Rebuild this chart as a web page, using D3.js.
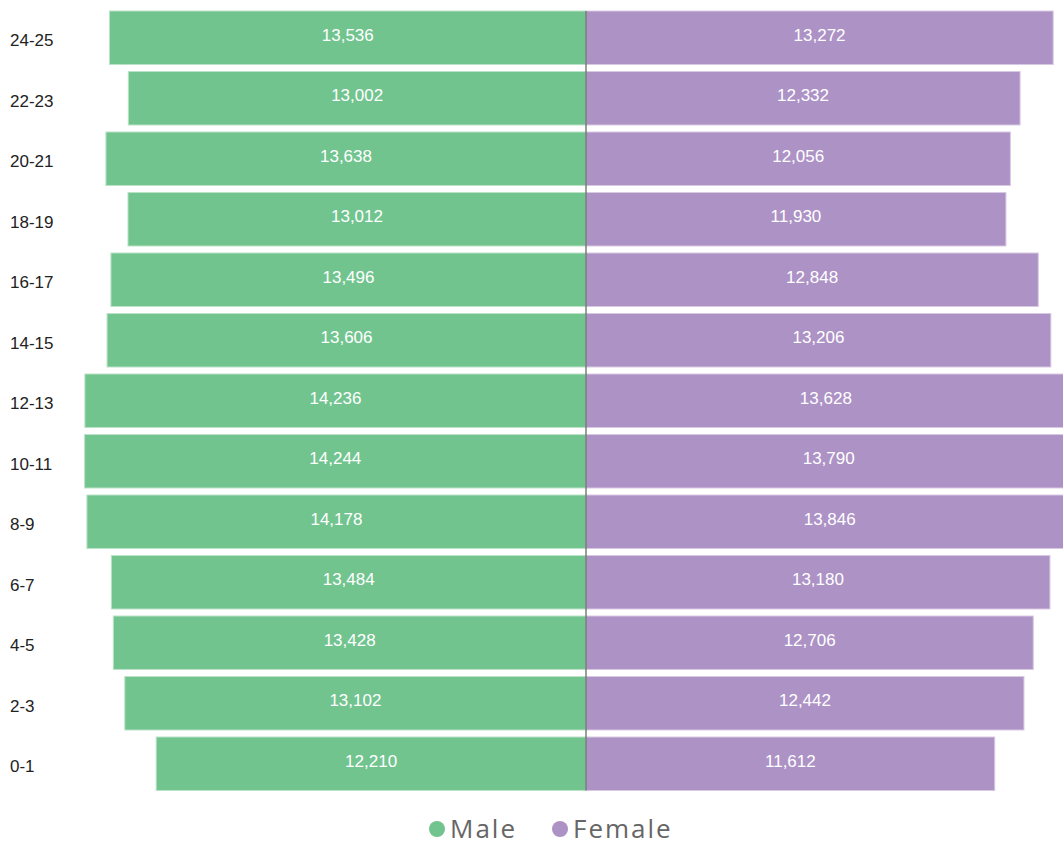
<!DOCTYPE html>
<html>
<head>
<meta charset="utf-8">
<script src="https://cdn.jsdelivr.net/npm/d3@7"></script>
<style>
  html, body { margin: 0; padding: 0; background: #fff; overflow: hidden; }
  svg { display: block; }
</style>
</head>
<body>
<svg id="chart" width="1063" height="846"></svg>
<script>
// Age groups, top to bottom
const ageGroups = ["24-25", "22-23", "20-21", "18-19", "16-17", "14-15", "12-13",
                   "10-11", "8-9", "6-7", "4-5", "2-3", "0-1"];
const maleValues   = [13536, 13002, 13638, 13012, 13496, 13606, 14236,
                      14244, 14178, 13484, 13428, 13102, 12210];
const femaleValues = [13272, 12332, 12056, 11930, 12848, 13206, 13628,
                      13790, 13846, 13180, 12706, 12442, 11612];
const seriesNames = ["Male", "Female"];
const seriesColors = ["#72c48f", "#ad92c6"];

const svg = d3.select("#chart");
const centerX = 586;

const x = d3.scaleLinear().domain([0, 16000]).range([0, 563.2]);
const y = d3.scaleBand().domain(ageGroups).range([7.5, 794])
  .paddingInner(0.116).paddingOuter(0.058);

const fmt = d3.format(",");

const rows = ageGroups.map((g, i) => ({ group: g, male: maleValues[i], female: femaleValues[i] }));

// Male bars grow leftwards from the centre
svg.append("g").selectAll("rect").data(rows).join("rect")
  .attr("x", d => centerX - x(d.male))
  .attr("y", d => y(d.group))
  .attr("width", d => x(d.male))
  .attr("height", y.bandwidth())
  .attr("fill", seriesColors[0])
  .attr("stroke", "#b9e2c6").attr("stroke-width", 1);

// Female bars grow rightwards
svg.append("g").selectAll("rect").data(rows).join("rect")
  .attr("x", centerX)
  .attr("y", d => y(d.group))
  .attr("width", d => x(d.female))
  .attr("height", y.bandwidth())
  .attr("fill", seriesColors[1])
  .attr("stroke", "#d8c9e3").attr("stroke-width", 1);

// Value labels centred in each bar
const labelFont = "'Liberation Sans', Arial, sans-serif";
svg.append("g").selectAll("text").data(rows).join("text")
  .attr("x", d => centerX - x(d.male) / 2)
  .attr("y", d => y(d.group) + y.bandwidth() / 2 - 2.5)
  .attr("text-anchor", "middle").attr("dominant-baseline", "central")
  .attr("font-family", labelFont).attr("font-size", 17).attr("fill", "#fff")
  .text(d => fmt(d.male));

svg.append("g").selectAll("text").data(rows).join("text")
  .attr("x", d => centerX + x(d.female) / 2)
  .attr("y", d => y(d.group) + y.bandwidth() / 2 - 2.5)
  .attr("text-anchor", "middle").attr("dominant-baseline", "central")
  .attr("font-family", labelFont).attr("font-size", 17).attr("fill", "#fff")
  .text(d => fmt(d.female));

// Category axis labels
svg.append("g").selectAll("text").data(ageGroups).join("text")
  .attr("x", 10)
  .attr("y", d => y(d) + y.bandwidth() / 2 + 3)
  .attr("dominant-baseline", "central")
  .attr("font-family", labelFont).attr("font-size", 17).attr("fill", "#222")
  .text(d => d);

// Centre axis line
svg.append("line")
  .attr("x1", centerX).attr("x2", centerX)
  .attr("y1", y(ageGroups[0])).attr("y2", y(ageGroups[ageGroups.length - 1]) + y.bandwidth())
  .attr("stroke", "#5f6b60").attr("stroke-opacity", 0.85).attr("stroke-width", 1.5);

// Legend
const legend = svg.append("g").attr("transform", "translate(0,829)");
const legendX = [437, 560];
seriesNames.forEach((name, i) => {
  legend.append("circle").attr("cx", legendX[i]).attr("cy", 0).attr("r", 8)
    .attr("fill", seriesColors[i]);
  legend.append("text").attr("x", legendX[i] + 13).attr("y", 9)
    .attr("font-family", "'Open Sans', 'Segoe UI', sans-serif")
    .attr("font-size", 26).attr("letter-spacing", 2).attr("fill", "#666")
    .text(name);
});
</script>
</body>
</html>
